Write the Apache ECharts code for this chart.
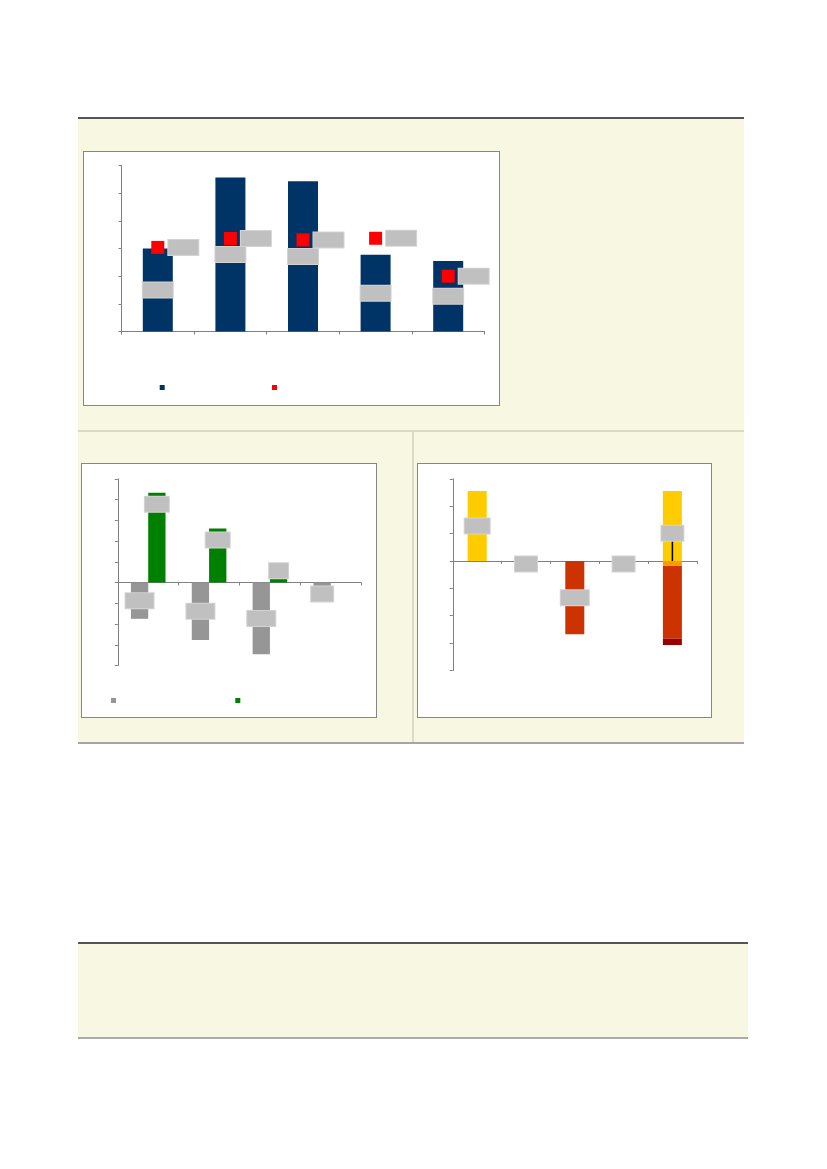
<!DOCTYPE html>
<html>
<head>
<meta charset="utf-8">
<script src="https://cdn.jsdelivr.net/npm/echarts@6/dist/echarts.min.js"></script>
<style>
    body { margin: 0; background: #fff; font-family: "Liberation Sans", Arial, sans-serif; }
    #page { position: relative; width: 827px; height: 1169px; }
    .panel { position: absolute; background: #f8f7e1; }
    .rule { position: absolute; }
    .box { position: absolute; background: #fff; border: 1.5px solid #858585; }
    .box > div { width: 100%; height: 100%; }
</style>
</head>
<body>
<div id="page">
    <!-- upper panel -->
    <div class="panel" style="left:78px;top:118px;width:666px;height:313px;"></div>
    <div class="rule" style="left:78px;top:117px;width:666px;height:2px;background:#555;"></div>
    <!-- lower two panels -->
    <div class="panel" style="left:78px;top:431px;width:666px;height:312px;"></div>
    <div class="rule" style="left:78px;top:430px;width:666px;height:2px;background:#dcd9c4;"></div>
    <div class="rule" style="left:412px;top:431px;width:2px;height:312px;background:#dcd9c4;"></div>
    <div class="rule" style="left:78px;top:742px;width:666px;height:2px;background:#a6a6a6;"></div>
    <!-- note panel -->
    <div class="panel" style="left:78px;top:943px;width:670px;height:95px;"></div>
    <div class="rule" style="left:78px;top:942px;width:670px;height:2px;background:#555;"></div>
    <div class="rule" style="left:78px;top:1037px;width:670px;height:2px;background:#aaa;"></div>

    <div class="box" style="left:83px;top:151px;width:415px;height:253px;"><div id="chart1"></div></div>
    <div class="box" style="left:81px;top:463px;width:294px;height:253px;"><div id="chart2"></div></div>
    <div class="box" style="left:417px;top:463px;width:293px;height:253px;"><div id="chart3"></div></div>
</div>
<script>
// chart 1
var cats1 = ['1', '2', '3', '4', '5'];
var barValues1 = [3.0, 5.57, 5.43, 2.77, 2.55];
var pointValues1 = [3.04, 3.36, 3.31, 3.37, 2.0];

// chart 2
var cats2 = ['1', '2', '3', '4'];
var greyValues2 = [-1.75, -2.77, -3.46, -0.19];
var greenValues2 = [4.33, 2.61, 0.21, null];

// chart 3
var cats3 = ['1', '2', '3', '4', '5'];
var yellowValues3 = [2.55, null, null, null, 2.55];
var orangeValues3 = [null, null, null, null, -0.18];
var redValues3 = [null, 0, -2.68, 0, -2.66];
var darkRedValues3 = [null, null, null, null, -0.23];
var netValues3 = [null, null, null, null, 0.74];

var AXIS = '#808080';

// grey label box (the text of the source is not shown)
function box(w, extra) {
    var o = {
        show: true,
        formatter: ' ',
        width: w,
        height: 15,
        padding: 0,
        backgroundColor: '#c0c0c0',
        borderColor: '#d4d4d4',
        borderWidth: 1
    };
    for (var k in extra) { o[k] = extra[k]; }
    return o;
}

function valueAxis(min, max) {
    return {
        type: 'value', min: min, max: max, interval: 1,
        axisLine: { show: true, lineStyle: { color: AXIS, width: 1 } },
        axisTick: { show: true, length: 3, lineStyle: { color: AXIS } },
        axisLabel: { show: false },
        splitLine: { show: false }
    };
}

function catAxis(data) {
    return {
        type: 'category', data: data,
        axisLine: { show: true, onZero: true, lineStyle: { color: AXIS, width: 1 } },
        axisTick: { show: true, length: 3, lineStyle: { color: AXIS } },
        axisLabel: { show: false }
    };
}

function legendAt(name, left, top) {
    return {
        data: [name], left: left, top: top, padding: 0,
        itemWidth: 5, itemHeight: 5, icon: 'rect',
        itemStyle: { borderWidth: 0, opacity: 1 },
        textStyle: { color: 'transparent', fontSize: 9 },
        selectedMode: false
    };
}

function items(values, labels) {
    var out = [];
    for (var i = 0; i < values.length; i++) {
        var it = { value: values[i] };
        if (labels[i]) { it.label = labels[i]; }
        out.push(it);
    }
    return out;
}

var chart1 = echarts.init(document.getElementById('chart1'));
chart1.setOption({
    animation: false,
    grid: { left: 37.5, right: 14.5, top: 13.5, bottom: 73.5 },
    xAxis: catAxis(cats1),
    yAxis: valueAxis(0, 6),
    legend: [legendAt('bars', 75.7, 231), legendAt('points', 188, 231)],
    series: [
        {
            name: 'bars', type: 'bar', data: barValues1, barWidth: 30,
            itemStyle: { color: '#003366' },
            label: box(30, { position: 'inside' })
        },
        {
            name: 'points', type: 'scatter', data: pointValues1,
            symbol: 'rect', symbolSize: 13,
            itemStyle: { color: '#ff0000', opacity: 1 },
            label: box(30, { position: 'right', distance: 4 })
        }
    ]
});

var chart2 = echarts.init(document.getElementById('chart2'));
chart2.setOption({
    animation: false,
    grid: { left: 35.8, right: 14.8, top: 14.8, bottom: 51.5 },
    xAxis: catAxis(cats2),
    yAxis: valueAxis(-4, 5),
    legend: [legendAt('grey', 29, 232), legendAt('green', 153.3, 232)],
    series: [
        {
            name: 'grey', type: 'bar', barWidth: 17.3, barGap: '0%',
            data: items(greyValues2, [null, null, null, box(22, { position: 'bottom', distance: 0 })]),
            itemStyle: { color: '#969696' },
            label: box(28, { position: 'inside' })
        },
        {
            name: 'green', type: 'bar', barWidth: 17.3, barGap: '0%',
            data: items(greenValues2, [null, null, box(19, { position: 'top', distance: 0 }), null]),
            itemStyle: { color: '#008000' },
            label: box(24, { position: 'insideTop', distance: 4 })
        }
    ]
});

var chart3 = echarts.init(document.getElementById('chart3'));
chart3.setOption({
    animation: false,
    grid: { left: 34.8, right: 14.2, top: 14.8, bottom: 46.5 },
    xAxis: [catAxis(cats3), { type: 'category', data: cats3, show: false }],
    yAxis: valueAxis(-4, 3),
    series: [
        {
            name: 'yellow', type: 'bar', stack: 'all', barWidth: 19,
            data: items(yellowValues3, [box(25, { position: 'inside' })]),
            itemStyle: { color: '#ffcc00' },
            label: { show: false }
        },
        {
            name: 'orange', type: 'bar', stack: 'all', barWidth: 19,
            data: orangeValues3,
            itemStyle: { color: '#ff9900' }
        },
        {
            name: 'red', type: 'bar', stack: 'all', barWidth: 19,
            data: items(redValues3, [null,
                box(22, { position: 'inside', offset: [0, 3] }),
                box(28, { position: 'inside' }),
                box(22, { position: 'inside', offset: [0, 3] }),
                null]),
            itemStyle: { color: '#cc3300' },
            label: { show: false }
        },
        {
            name: 'darkred', type: 'bar', stack: 'all', barWidth: 19,
            data: darkRedValues3,
            itemStyle: { color: '#990000' }
        },
        {
            name: 'net', type: 'bar', xAxisIndex: 1, barWidth: 1.5,
            data: netValues3,
            itemStyle: { color: '#000' },
            label: box(22, { position: 'top', distance: 0 })
        }
    ]
});
</script>
</body>
</html>
